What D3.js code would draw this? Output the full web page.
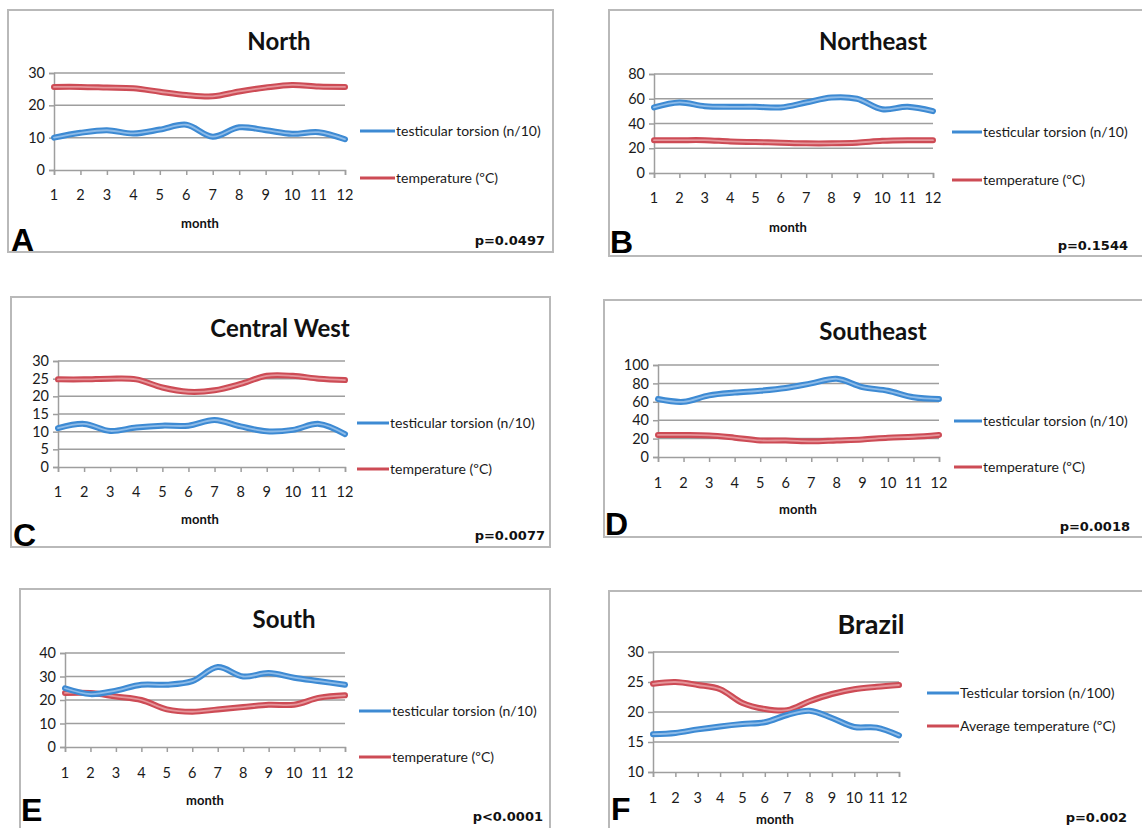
<!DOCTYPE html>
<html>
<head>
<meta charset="utf-8">
<script src="https://cdn.jsdelivr.net/npm/d3@7"></script>
<style>
  body { margin: 0; background: #fff; }
  svg { display: block; }
</style>
</head>
<body>
<script>
const months = [1, 2, 3, 4, 5, 6, 7, 8, 9, 10, 11, 12];

const northTorsion = [10, 11.5, 12.3, 11.3, 12.5, 14, 10.3, 13.2, 12.3, 11.2, 11.7, 9.5];
const northTemp = [25.7, 25.7, 25.5, 25.3, 24.2, 23.2, 22.8, 24.3, 25.5, 26.3, 25.8, 25.7];

const northeastTorsion = [53, 57, 54, 53.5, 53.5, 53, 57, 61, 60, 51.5, 53.5, 50];
const northeastTemp = [26.5, 26.5, 26.5, 25.5, 25, 24.5, 24, 24, 24.5, 26, 26.5, 26.5];

const centralWestTorsion = [11, 12.2, 10.2, 11.2, 11.7, 11.7, 13.3, 11.5, 10.1, 10.5, 12.2, 9.3];
const centralWestTemp = [24.8, 24.8, 25, 24.8, 22.5, 21.3, 21.7, 23.5, 25.8, 25.8, 25, 24.6];

const southeastTorsion = [63, 60, 67, 70, 72, 75, 80, 85, 76, 72, 65, 63];
const southeastTemp = [24, 24, 23.5, 21, 18, 18, 17, 18, 19, 21, 22, 24];

const southTorsion = [25, 22.5, 24, 26.5, 26.5, 28, 34, 30, 31.5, 29.5, 28, 26.5];
const southTemp = [23, 23, 21.5, 20, 16, 15, 16, 17, 18, 18, 21, 22];

const brazilTorsion = [16.3, 16.5, 17.1, 17.6, 18, 18.3, 19.5, 20.2, 19, 17.5, 17.4, 16.1];
const brazilTemp = [24.7, 25, 24.5, 23.8, 21.5, 20.5, 20.3, 21.8, 23, 23.8, 24.2, 24.5];

const ticksTo30by10 = [0, 10, 20, 30];
const ticksTo80 = [0, 20, 40, 60, 80];
const ticksTo30by5 = [0, 5, 10, 15, 20, 25, 30];
const ticksTo100 = [0, 20, 40, 60, 80, 100];
const ticksTo40 = [0, 10, 20, 30, 40];
const ticksBrazil = [10, 15, 20, 25, 30];

const titles = ['North', 'Northeast', 'Central West', 'Southeast', 'South', 'Brazil'];
const letters = ['A', 'B', 'C', 'D', 'E', 'F'];
const pValues = ['p=0.0497', 'p=0.1544', 'p=0.0077', 'p=0.0018', 'p<0.0001', 'p=0.002'];
const torsionLabel = 'testicular torsion (n/10)';
const tempLabel = 'temperature (ºC)';
const brazilTorsionLabel = 'Testicular torsion (n/100)';
const brazilTempLabel = 'Average temperature (ºC)';

const blue = '#3d8ad3', blueLight = '#8dbbe8';
const red = '#cd4b55', redLight = '#e5959a';

// layout for each panel (pixel positions only)
const panels = [
  { torsion: northTorsion, temp: northTemp, ticks: ticksTo30by10,
    box: [8, 10, 545, 242], x0: 54, x1: 345, yTop: 73, yBot: 170,
    titleY: 50, titleX: 279, titleSize: 24, tickY: 200, legX: [360, 395], legY: [131, 178],
    monthX: 200, monthY: 228, letterX: 11, letterY: 251, pX: 545, pY: 245 },
  { torsion: northeastTorsion, temp: northeastTemp, ticks: ticksTo80,
    box: [609, 10, 545, 246], x0: 654, x1: 933, yTop: 74, yBot: 173,
    titleY: 50, titleX: 873, titleSize: 24, tickY: 203, legX: [952, 982], legY: [132, 180],
    monthX: 788, monthY: 232, letterX: 610, letterY: 253, pX: 1128, pY: 250 },
  { torsion: centralWestTorsion, temp: centralWestTemp, ticks: ticksTo30by5,
    box: [11, 297, 539, 250], x0: 58, x1: 345, yTop: 361, yBot: 467,
    titleY: 337, titleX: 280, titleSize: 24, tickY: 497, legX: [357, 389], legY: [423, 469],
    monthX: 200, monthY: 524, letterX: 13, letterY: 546, pX: 545, pY: 540 },
  { torsion: southeastTorsion, temp: southeastTemp, ticks: ticksTo100,
    box: [604, 300, 545, 237], x0: 658, x1: 939, yTop: 365, yBot: 457,
    titleY: 340, titleX: 873, titleSize: 24, tickY: 488, legX: [954, 982], legY: [421, 467],
    monthX: 798, monthY: 514, letterX: 605, letterY: 535, pX: 1130, pY: 531 },
  { torsion: southTorsion, temp: southTemp, ticks: ticksTo40,
    box: [20, 589, 530, 250], x0: 65, x1: 345, yTop: 653, yBot: 747,
    titleY: 628, titleX: 284, titleSize: 24, tickY: 778, legX: [359, 391], legY: [711, 757],
    monthX: 205, monthY: 805, letterX: 21, letterY: 821, pX: 543, pY: 821 },
  { torsion: brazilTorsion, temp: brazilTemp, ticks: ticksBrazil,
    box: [609, 591, 545, 250], x0: 653, x1: 899, yTop: 652, yBot: 772,
    titleY: 634, titleX: 871, titleSize: 27, tickY: 803, legX: [927, 959], legY: [693, 726],
    monthX: 775, monthY: 824, letterX: 611, letterY: 820, pX: 1127, pY: 822 }
];
panels.forEach((p, i) => {
  p.title = titles[i];
  p.letter = letters[i];
  p.pText = pValues[i];
  p.labels = i === 5 ? [brazilTorsionLabel, brazilTempLabel] : [torsionLabel, tempLabel];
});

const svg = d3.select('body')
  .append('svg')
  .attr('width', 1142)
  .attr('height', 828);

const font = 'Lato, "Open Sans", sans-serif';

function drawPanel(p) {
  const g = svg.append('g');

  g.append('rect')
    .attr('x', p.box[0]).attr('y', p.box[1])
    .attr('width', p.box[2]).attr('height', p.box[3])
    .attr('fill', '#fff')
    .attr('stroke', '#b9b9b9')
    .attr('stroke-width', 2);

  const x = d3.scaleLinear().domain([1, 12]).range([p.x0, p.x1]);
  const y = d3.scaleLinear()
    .domain([p.ticks[0], p.ticks[p.ticks.length - 1]])
    .range([p.yBot, p.yTop]);

  // gridlines
  g.selectAll('.grid')
    .data(p.ticks.slice(1))
    .enter()
    .append('line')
    .attr('x1', p.x0).attr('x2', p.x1)
    .attr('y1', d => y(d)).attr('y2', d => y(d))
    .attr('stroke', '#9e9e9e')
    .attr('stroke-width', 1.5);

  const yAxis = d3.axisLeft(y).tickValues(p.ticks).tickSize(5).tickPadding(4);
  const ya = g.append('g')
    .attr('transform', `translate(${p.x0},0)`)
    .call(yAxis);
  ya.select('.domain').attr('stroke', '#9e9e9e').attr('stroke-width', 1.5);
  ya.selectAll('.tick line').attr('stroke', '#9e9e9e').attr('stroke-width', 1.5);
  ya.selectAll('.tick text')
    .attr('font-family', font).attr('font-size', 14.5).attr('fill', '#1a1a1a');

  const xAxis = d3.axisBottom(x).tickValues(months).tickSize(5).tickFormat(() => '');
  const xa = g.append('g')
    .attr('transform', `translate(0,${p.yBot})`)
    .call(xAxis);
  xa.select('.domain').attr('stroke', '#9e9e9e').attr('stroke-width', 1.5);
  xa.selectAll('.tick line').attr('stroke', '#9e9e9e').attr('stroke-width', 1.5);

  g.selectAll('.mlabel')
    .data(months)
    .enter()
    .append('text')
    .attr('x', d => x(d))
    .attr('y', p.tickY)
    .attr('text-anchor', 'middle')
    .attr('font-family', font)
    .attr('font-size', 14.5)
    .attr('fill', '#1a1a1a')
    .text(d => d);

  const line = d3.line()
    .x((d, i) => x(months[i]))
    .y(d => y(d))
    .curve(d3.curveCatmullRom.alpha(0.5));

  [[p.temp, red, redLight], [p.torsion, blue, blueLight]].forEach(([vals, c, cl]) => {
    g.append('path').attr('d', line(vals)).attr('fill', 'none')
      .attr('stroke', c).attr('stroke-width', 6).attr('stroke-linecap', 'round');
    g.append('path').attr('d', line(vals)).attr('fill', 'none')
      .attr('stroke', cl).attr('stroke-width', 1.8).attr('stroke-linecap', 'round');
  });

  // legend
  [[blue, p.labels[0]], [red, p.labels[1]]].forEach(([c, label], i) => {
    g.append('line')
      .attr('x1', p.legX[0]).attr('x2', p.legX[1])
      .attr('y1', p.legY[i]).attr('y2', p.legY[i])
      .attr('stroke', c).attr('stroke-width', 3);
    g.append('text')
      .attr('x', p.legX[1] + 1).attr('y', p.legY[i] + 5)
      .attr('font-family', font).attr('font-size', 14)
      .attr('fill', '#1a1a1a')
      .text(label);
  });

  g.append('text')
    .attr('x', p.titleX).attr('y', p.titleY)
    .attr('text-anchor', 'middle')
    .attr('font-family', font).attr('font-weight', 'bold')
    .attr('font-size', p.titleSize).attr('fill', '#111')
    .text(p.title);

  g.append('text')
    .attr('x', p.monthX).attr('y', p.monthY)
    .attr('text-anchor', 'middle')
    .attr('font-family', font).attr('font-weight', 'bold')
    .attr('font-size', 13).attr('fill', '#111')
    .text('month');

  g.append('text')
    .attr('x', p.letterX).attr('y', p.letterY)
    .attr('font-family', '"Liberation Sans", Arial, sans-serif').attr('font-weight', 'bold')
    .attr('font-size', 32).attr('fill', '#000')
    .text(p.letter);

  g.append('text')
    .attr('x', p.pX).attr('y', p.pY)
    .attr('text-anchor', 'end')
    .attr('font-family', '"DejaVu Sans", Verdana, sans-serif').attr('font-weight', 'bold')
    .attr('font-size', 13).attr('fill', '#111')
    .text(p.pText);
}

panels.forEach(drawPanel);
</script>
</body>
</html>
